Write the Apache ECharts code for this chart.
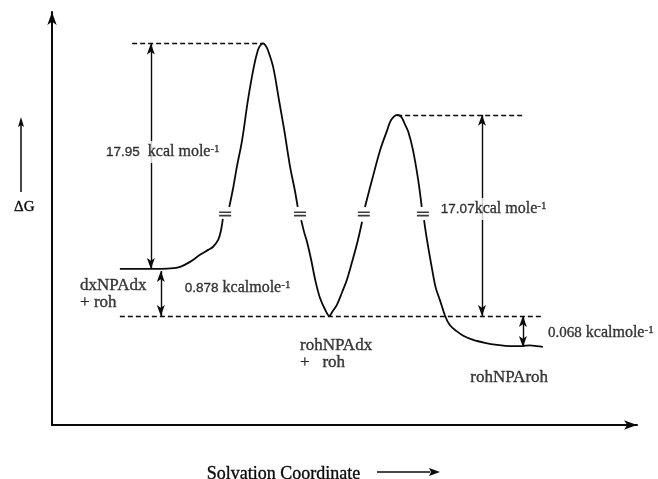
<!DOCTYPE html>
<html>
<head>
<meta charset="utf-8">
<script src="https://cdn.jsdelivr.net/npm/echarts@6/dist/echarts.min.js"></script>
<style>
  html, body { margin: 0; padding: 0; background: #fff; }
  #chart { width: 658px; height: 479px; }
</style>
</head>
<body>
<div id="chart"></div>
<script>
// Free-energy profile along the solvation coordinate.
// Heights are schematic (the scale is broken at the "=" marks); the
// energy gaps themselves are given in kcal/mol in the labels.

// Reaction path (coordinate, schematic height); null marks a scale break.
const pathX = [
  11.6, 15.0, 18.0, 20.2, 21.9, 23.6, 25.3, 26.7, 27.5, 28.4, 28.9, 29.2,
  29.6,
  30.3, 30.9, 31.6, 32.5, 33.5, 34.5, 35.2, 35.6, 36.1, 36.5, 36.9, 37.8, 38.8, 39.7, 40.7, 41.5, 42.0,
  42.4,
  42.6, 43.1, 43.6, 44.3, 45.0, 45.8, 46.7, 47.4, 48.0, 48.7, 49.6, 50.4, 51.3, 52.3, 53.0,
  53.3,
  53.5, 54.7, 56.1, 57.3, 57.8, 58.4, 59.0, 59.7, 60.3, 60.9, 61.7, 62.6, 63.2,
  63.4,
  63.6, 64.1, 65.0, 65.6, 66.3, 67.2, 68.0, 69.1, 70.3, 72.0, 74.0, 76.1, 78.3, 80.3, 81.7, 82.9, 83.9
];
const pathY = [
  37.8, 37.8, 37.8, 37.9, 38.3, 39.5, 41.2, 42.4, 43.1, 44.8, 47.2, 49.9,
  null,
  52.8, 56.9, 62.5, 69.0, 78.7, 86.7, 90.8, 91.9, 92.4, 91.9, 90.8, 86.7, 78.7, 71.4, 62.5, 56.9, 52.8,
  null,
  49.6, 46.7, 44.3, 40.0, 35.1, 30.8, 27.9, 26.4, 27.6, 29.1, 32.2, 35.1, 39.5, 44.8, 49.2,
  null,
  52.8, 59.3, 66.6, 71.4, 73.4, 74.6, 75.1, 74.6, 72.9, 71.0, 66.6, 59.3, 52.8,
  null,
  49.6, 44.8, 37.5, 33.2, 30.3, 26.4, 24.2, 22.8, 21.6, 20.6, 19.9, 19.4, 19.1, 19.1, 19.3, 19.1, 18.9
];

// Scale-break marks on the path
const breakX = [29.6, 42.4, 53.3, 63.4];
const breakY = 51.1;

// Stationary points: reactant, TS1, intermediate, TS2, product
const levelY = [37.8, 92.4, 26.4, 75.1, 18.9];

// Energy gaps (kcal/mol)
const gapValues = ['17.95', '0.878', '17.07', '0.068'];

// Species names
const speciesLabels = ['dxNPAdx\n+ roh', 'rohNPAdx\n+   roh', 'rohNPAroh'];

const INK = '#0a0a0a';
const SERIF = '"Liberation Serif", "Times New Roman", serif';
const SANS = '"Liberation Sans", Arial, sans-serif';

const curveData = pathX.map((x, i) => [x, pathY[i] == null ? '-' : pathY[i]]);

const dashed = (x1, x2, y) => [{ coord: [x1, y] }, { coord: [x2, y] }];
const dashedLines = [
  dashed(13.7, 36.1, levelY[1]),
  dashed(59.0, 80.5, levelY[3]),
  dashed(11.6, 83.9, levelY[2])
];

const arrow = (x, y1, y2) => [{ coord: [x, y1] }, { coord: [x, y2] }];
const gapArrows = [
  arrow(16.9, levelY[1], levelY[0]),
  arrow(18.6, levelY[0] - 0.5, levelY[2]),
  arrow(73.5, levelY[3], levelY[2]),
  arrow(80.5, levelY[2], levelY[4])
];

const stroke = { textBorderColor: INK, textBorderWidth: 0.35 };
const gapRich = {
  num: Object.assign({ fontFamily: SANS, fontSize: 13.5, color: INK }, stroke),
  numS: Object.assign({ fontFamily: SERIF, fontSize: 15, color: INK }, stroke),
  unit: Object.assign({ fontFamily: SERIF, fontSize: 16, color: INK }, stroke),
  sup: Object.assign({ fontFamily: SERIF, fontSize: 11, color: INK, verticalAlign: 'top', lineHeight: 11 }, stroke)
};

function gapLabel(x, y, numStyle, value, unit, bg) {
  return {
    value: [x, y],
    label: {
      show: true, position: 'right', distance: 0,
      formatter: '{' + numStyle + '|' + value + '}{unit|' + unit + '}{sup|-1}',
      rich: gapRich,
      backgroundColor: bg ? '#fff' : 'transparent',
      padding: bg ? [3, 1, 3, 1] : 0
    }
  };
}

function speciesLabel(x, y, text) {
  return {
    value: [x, y],
    label: Object.assign({
      show: true, position: 'right', distance: 0,
      formatter: text,
      fontFamily: SERIF, fontSize: 17, lineHeight: 17, color: INK
    }, stroke)
  };
}

const textItems = [
  gapLabel(9.06, 66.1, 'num', gapValues[0], '  kcal mole', true),
  gapLabel(22.7, 33.2, 'num', gapValues[1], ' kcalmole', false),
  gapLabel(66.3, 52.3, 'num', gapValues[2], 'kcal mole', true),
  gapLabel(84.8, 22.3, 'numS', gapValues[3], ' kcalmole', false),
  speciesLabel(4.8, 31.8, speciesLabels[0]),
  speciesLabel(42.4, 17.1, speciesLabels[1]),
  speciesLabel(71.5, 11.4, speciesLabels[2])
];

const chart = echarts.init(document.getElementById('chart'), null, { renderer: 'canvas' });

chart.setOption({
  animation: false,
  backgroundColor: '#fff',
  grid: { left: 52, right: 21, top: 12, bottom: 54, containLabel: false, outerBoundsMode: 'none' },
  xAxis: {
    type: 'value', min: 0, max: 100,
    splitLine: { show: false }, axisTick: { show: false }, axisLabel: { show: false },
    axisLine: { show: true, onZero: false, lineStyle: { color: INK, width: 2 },
                symbol: ['none', 'arrow'], symbolSize: [7, 13], symbolOffset: [0, 0] },
    name: 'Solvation Coordinate', nameLocation: 'middle', nameGap: 40,
    nameTextStyle: Object.assign({ fontFamily: SERIF, fontSize: 18, color: INK, padding: [0, 122, 0, 0] }, stroke)
  },
  yAxis: {
    type: 'value', min: 0, max: 100,
    splitLine: { show: false }, axisTick: { show: false }, axisLabel: { show: false },
    axisLine: { show: true, onZero: false, lineStyle: { color: INK, width: 2 },
                symbol: ['none', 'arrow'], symbolSize: [7, 13] }
  },
  graphic: [
    // ΔG label with its upward arrow
    { type: 'text', x: 14, y: 207,
      style: Object.assign({ text: 'ΔG', font: '15px ' + SERIF, fill: INK, verticalAlign: 'middle', align: 'left' }, { stroke: INK, lineWidth: 0.35 }) },
    { type: 'line', shape: { x1: 21, y1: 192, x2: 21, y2: 124 }, style: { stroke: INK, lineWidth: 1.5 } },
    { type: 'polygon', shape: { points: [[21, 117], [24, 127], [21, 125], [18, 127]] }, style: { fill: INK } },
    // arrow beside the coordinate name
    { type: 'line', shape: { x1: 377, y1: 472, x2: 430, y2: 472 }, style: { stroke: INK, lineWidth: 1.5 } },
    { type: 'polygon', shape: { points: [[440, 472], [429, 468], [431, 472], [429, 476]] }, style: { fill: INK } }
  ],
  series: [
    {
      name: 'profile', type: 'line', data: curveData, connectNulls: false,
      smooth: 0.35, showSymbol: false, symbol: 'none',
      lineStyle: { color: INK, width: 1.8 }, z: 3
    },
    {
      name: 'levels', type: 'line', data: [], z: 2,
      markLine: {
        silent: true, symbol: ['none', 'none'], animation: false,
        label: { show: false },
        lineStyle: { color: INK, width: 1.3, type: [5, 3] },
        data: dashedLines
      }
    },
    {
      name: 'gaps', type: 'line', data: [], z: 2,
      markLine: {
        silent: true, symbol: ['arrow', 'arrow'], symbolSize: [6, 11], animation: false,
        label: { show: false },
        lineStyle: { color: INK, width: 1.4, type: 'solid' },
        data: gapArrows
      }
    },
    {
      name: 'breaks', type: 'scatter', z: 4,
      symbol: 'path://M0 0H12V1.6H0ZM0 3.4H12V5H0Z', symbolSize: [12, 5],
      itemStyle: { color: INK },
      data: breakX.map(x => [x, breakY])
    },
    {
      name: 'text', type: 'scatter', z: 10, symbolSize: 0,
      data: textItems
    }
  ]
});
</script>
</body>
</html>
